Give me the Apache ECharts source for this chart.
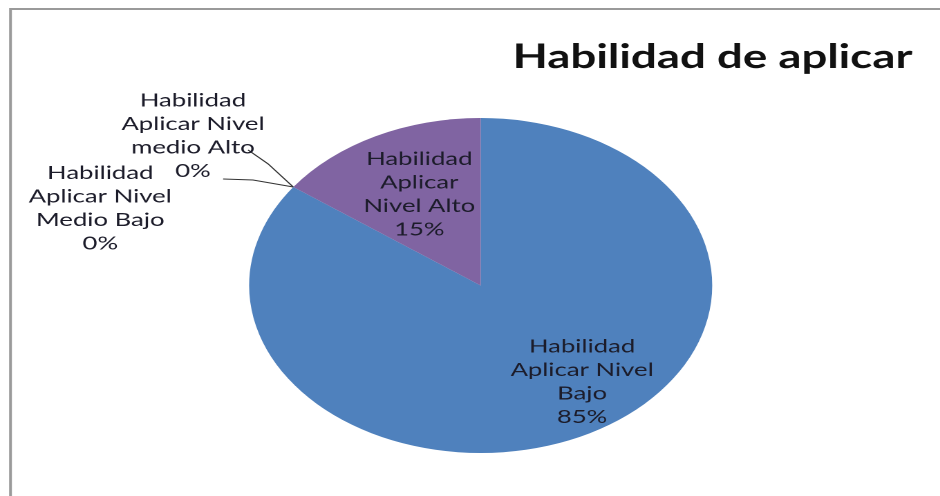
<!DOCTYPE html>
<html>
<head>
<meta charset="utf-8">
<script src="https://cdn.jsdelivr.net/npm/echarts@6/dist/echarts.min.js"></script>
<style>
html,body{margin:0;padding:0;background:#fff;overflow:hidden;width:940px;height:496px;}
#chart{width:680px;height:496px;transform:scaleX(1.3824);transform-origin:0 0;}
</style>
</head>
<body>
<div id="chart"></div>
<script>
const titleText = 'Habilidad de aplicar';
const categories = ['Habilidad Aplicar Nivel Bajo', 'Habilidad Aplicar Nivel Medio Bajo', 'Habilidad Aplicar Nivel medio Alto', 'Habilidad Aplicar Nivel Alto'];
const labelTexts = ['Habilidad\nAplicar Nivel\nBajo', 'Habilidad\nAplicar Nivel\nMedio Bajo', 'Habilidad\nAplicar Nivel\nmedio Alto', 'Habilidad\nAplicar\nNivel Alto'];
const values = [85, 0, 0, 15];
const colors = ['#4F81BD', '#C0504D', '#9BBB59', '#8064A2'];

const chart = echarts.init(document.getElementById('chart'), null, {renderer: 'canvas', devicePixelRatio: 2});

const font = 'Lato, "Liberation Sans", sans-serif';

const option = {
  animation: false,
  backgroundColor: '#fff',
  title: {
    text: titleText,
    right: 15,
    top: 36,
    textStyle: {fontFamily: font, fontWeight: 'bold', fontSize: 33, color: '#111'}
  },
  graphic: [{
    type: 'rect',
    shape: {x: 7.6, y: 9, width: 720, height: 520},
    style: {fill: 'none', stroke: '#9a9a9a', lineWidth: 2},
    silent: true
  }],
  series: [{
    type: 'pie',
    center: [347.7, 285.5],
    radius: [0, 167.5],
    startAngle: 90,
    clockwise: true,
    avoidLabelOverlap: false,
    itemStyle: {borderWidth: 0},
    label: {
      fontFamily: font,
      fontSize: 18.6,
      lineHeight: 23.5,
      color: '#1c1c2a',
      align: 'center',
      formatter: function (p) { return labelTexts[p.dataIndex] + '\n' + p.percent + '%'; }
    },
    labelLine: {show: true, length: 20, length2: 30, lineStyle: {color: '#333', width: 1}},
    labelLayout: function (p) {
      const i = p.dataIndex;
      if (i === 0) return {dx: 34, dy: 19};
      if (i === 3) return {dx: -5, dy: -14};
      const start = p.labelLinePoints ? p.labelLinePoints[0] : [210.5, 190];
      if (i === 1) {
        return {x: 72.5, y: 208, align: 'center', verticalAlign: 'middle',
          labelLinePoints: [start, [183, 180], [161.4, 179]]};
      }
      if (i === 2) {
        return {x: 139.6, y: 135.5, align: 'center', verticalAlign: 'middle',
          labelLinePoints: [start, [194, 164], [179.5, 150]]};
      }
    },
    data: categories.map(function (c, i) {
      const inside = values[i] > 0;
      return {
        name: c,
        value: values[i],
        itemStyle: {color: colors[i]},
        label: {position: inside ? 'inside' : 'outside'},
        labelLine: {show: !inside}
      };
    })
  }]
};
chart.setOption(option);
</script>
</body>
</html>
